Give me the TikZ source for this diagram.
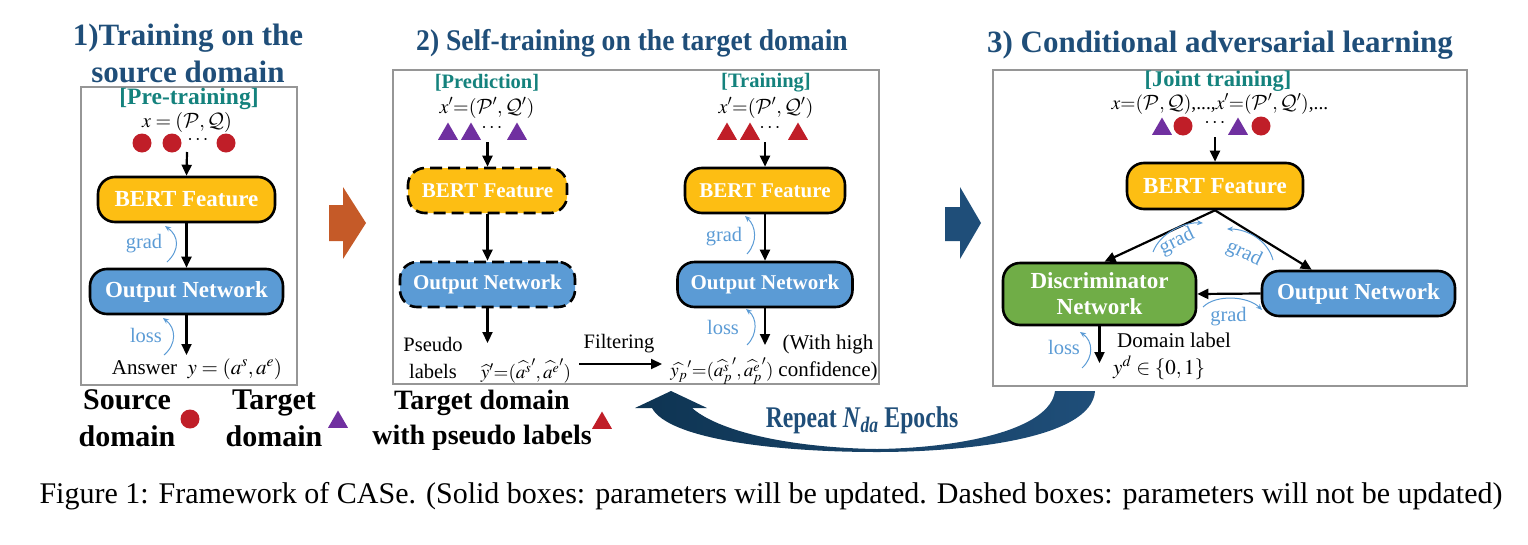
\documentclass[tikz,border=0pt]{standalone}
\usepackage{mathptmx}
\usepackage{fontspec}
\setmainfont{Liberation Serif}
\DeclareMathAlphabet{\mathcal}{OMS}{cmsy}{m}{n}
\usetikzlibrary{arrows.meta,shapes.geometric}
\definecolor{titleblue}{RGB}{31,78,121}
\definecolor{navydark}{RGB}{14,52,82}
\definecolor{tealc}{RGB}{20,130,125}
\definecolor{bertyellow}{RGB}{253,190,19}
\definecolor{outblue}{RGB}{91,155,213}
\definecolor{discgreen}{RGB}{112,173,71}
\definecolor{dotred}{RGB}{192,30,40}
\definecolor{purp}{RGB}{112,48,160}
\definecolor{orangec}{RGB}{197,90,40}
\definecolor{panelgray}{RGB}{150,150,150}
\definecolor{lightblue}{RGB}{91,155,213}
\newcommand\fs[2]{\fontsize{#1}{#2}\selectfont}
\tikzset{
 panel/.style={draw=panelgray, line width=1.6pt, inner sep=0},
 txt/.style={inner sep=0, font=\fs{21}{27}, align=center},
 ttl/.style={inner sep=0, text=titleblue, align=center},
 phase/.style={inner sep=0, text=tealc},
 mth/.style={inner sep=0, font=\fs{20}{24}},
 lgd/.style={inner sep=0, align=center},
 nbox/.style={draw=black, line width=2.6pt, rounded corners=17pt, text=white, font=\fs{23}{26}\bfseries, inner sep=0, minimum height=45, align=center},
 bertbox/.style={nbox, fill=bertyellow},
 outbox/.style={nbox, fill=outblue},
 discbox/.style={nbox, fill=discgreen},
 frozen/.style={dash pattern=on 12pt off 6pt},
 rdot/.style={circle, fill=dotred, inner sep=0, minimum size=19},
 tri/.style={regular polygon, regular polygon sides=3, inner sep=0, minimum size=23, fill=#1},
 conn/.style={line width=2.2pt, -{Triangle[length=11pt,width=10pt]}},
 fb/.style={draw=lightblue, line width=1pt, -{Stealth[length=6pt,width=5pt]}},
 fblabel/.style={inner sep=0, font=\fs{20.5}{24}, text=lightblue},
}
\begin{document}
\begin{tikzpicture}[x=1pt,y=-1pt]
\useasboundingbox (0,0) rectangle (1528,544);
% ---------------- panel 1 ----------------
\node[ttl, font=\fs{31}{37}\bfseries] (t1) at (188,53) {1)Training on the\\source domain};
\node[panel, minimum width=216, minimum height=298] (p1) at (189,236) {};
\node[phase, font=\fs{23.5}{26}\bfseries] (pre) at (189,99) {[Pre-training]};
\node[mth] (x1) at (187,122) {$x=(\mathcal{P},\mathcal{Q})$};
\node[rdot] (c11) at (142,143) {};
\node[rdot] (c12) at (172,143) {};
\node[mth] (d1) at (198,140) {$\cdots$};
\node[rdot] (c13) at (226,143) {};
\coordinate (in1) at (187,152);
\node[bertbox, minimum width=177] (bert1) at (186.5,199.5) {BERT Feature};
\node[outbox, minimum width=193] (on1) at (186.5,291.5) {Output Network};
\coordinate (out1) at (186.5,355);
\draw[conn] (in1) -- (bert1.north);
\draw[conn] (bert1.south) -- (on1.north);
\draw[conn] (on1.south) -- (out1);
\node[fblabel] (g1) at (144,244) {grad};
\draw[fb] (167,262) .. controls (180,250) and (179,236) .. (165,226);
\node[fblabel] (l1) at (146,335) {loss};
\draw[fb] (164,355) .. controls (177,344) and (176,328) .. (163,318);
\node[txt] (ans) at (197,369) {Answer\enspace $y=(a^s,a^e)$};
% legend
\node[lgd, font=\fs{30}{37}\bfseries] (src) at (127,418) {Source\\domain};
\node[rdot] (srcdot) at (190,419) {};
\node[lgd, font=\fs{30}{37}\bfseries] (tgt) at (274,418) {Target\\domain};
\node[tri=purp] (tgttri) at (338,422) {};
% orange arrow
\fill[orangec] (329,205) -- (343,205) -- (343,187) -- (366,223) -- (343,259) -- (343,241) -- (329,241) -- cycle;
% ---------------- panel 2 ----------------
\node[ttl, font=\fs{30}{37}\bfseries] (t2) at (632,43) {\scalebox{0.92}[1]{2) Self-training on the target domain}};
\node[panel, minimum width=486, minimum height=314] (p2) at (636,227) {};
\node[phase, font=\fs{20.5}{26}\bfseries] (pred) at (487,83) {[Prediction]};
\node[mth] (x2a) at (487,108) {$x'{=}(\mathcal{P}',\mathcal{Q}')$};
\node[tri=purp] (ta1) at (448,134) {};
\node[tri=purp] (ta2) at (471,134) {};
\node[mth] (da) at (492,128) {$\cdots$};
\node[tri=purp] (ta3) at (517,134) {};
\node[phase, font=\fs{20.5}{26}\bfseries] (trn) at (766,83) {[Training]};
\node[mth] (x2b) at (766,108) {$x'{=}(\mathcal{P}',\mathcal{Q}')$};
\node[tri=dotred] (tb1) at (727,134) {};
\node[tri=dotred] (tb2) at (750,134) {};
\node[mth] (db) at (770,128) {$\cdots$};
\node[tri=dotred] (tb3) at (798,134) {};
\coordinate (in2a) at (487.5,142);
\coordinate (in2b) at (765,142);
\node[bertbox, frozen, minimum width=159, font=\fs{21}{26}\bfseries] (bert2a) at (487.5,190.5) {BERT Feature};
\node[bertbox, minimum width=160, font=\fs{21}{26}\bfseries] (bert2b) at (765,190.5) {BERT Feature};
\node[outbox, frozen, minimum width=175, font=\fs{21}{26}\bfseries] (on2a) at (487.5,284.5) {Output Network};
\node[outbox, minimum width=175, font=\fs{21}{26}\bfseries] (on2b) at (765,284.5) {Output Network};
\coordinate (out2a) at (487.5,343);
\coordinate (out2b) at (765,345);
\draw[conn] (in2a) -- (bert2a.north);
\draw[conn] (bert2a.south) -- (on2a.north);
\draw[conn] (on2a.south) -- (out2a);
\draw[conn] (in2b) -- (bert2b.north);
\draw[conn] (bert2b.south) -- (on2b.north);
\draw[conn] (on2b.south) -- (out2b);
\node[fblabel] (g2) at (724,237) {grad};
\draw[fb] (747,254) .. controls (758,242) and (756,226) .. (745,216);
\node[fblabel] (l2) at (723,327) {loss};
\draw[fb] (747,345) .. controls (758,334) and (757,318) .. (746,309);
\node[txt, font=\fs{20.5}{27}] (pl) at (433,358) {Pseudo\\labels};
\node[mth, font=\fs{19}{24}] (yh) at (526,371) {$\widehat{y}'{=}(\widehat{a^s}',\widehat{a^e}')$};
\node[txt, font=\fs{20.5}{27}] (filt) at (619,344) {Filtering};
\coordinate (fa) at (579,364);
\coordinate (fbb) at (662,364);
\draw[conn] (fa) -- (fbb);
\node[mth, font=\fs{19}{24}] (yp) at (722,371) {$\widehat{y_p}'{=}(\widehat{a_p^s}',\widehat{a_p^e}')$};
\node[txt] (conf) at (828,358) {(With high\\confidence)};
\node[lgd, font=\fs{28}{35}\bfseries] (tpl) at (482,420) {Target domain\\with pseudo labels};
\node[tri=dotred] (tpltri) at (602,423) {};
% blue arrow
\fill[titleblue] (945,207) -- (960,207) -- (960,187) -- (981,223) -- (960,259) -- (960,241) -- (945,241) -- cycle;
% ---------------- panel 3 ----------------
\node[ttl, font=\fs{31}{37}\bfseries] (t3) at (1220,45) {3) Conditional adversarial learning};
\node[panel, minimum width=474, minimum height=316] (p3) at (1230,228) {};
\node[phase, font=\fs{22.5}{26}\bfseries] (joint) at (1218,81) {[Joint training]};
\node[mth, font=\fs{19.5}{24}] (x3) at (1220,104) {$x{=}(\mathcal{P},\mathcal{Q})$,...,$x'{=}(\mathcal{P}',\mathcal{Q}')$,...};
\node[tri=purp] (s1) at (1162,129) {};
\node[rdot] (s2) at (1183,126) {};
\node[mth] (s3) at (1215,123) {$\cdots$};
\node[tri=purp] (s4) at (1238,129) {};
\node[rdot] (s5) at (1261,126) {};
\coordinate (in3) at (1215,137);
\node[bertbox, minimum width=176, minimum height=46] (bert3) at (1215,186) {BERT Feature};
\node[discbox, minimum width=193, minimum height=62] (disc) at (1099.5,294) {Discriminator\\Network};
\node[outbox, minimum width=193] (on3) at (1358.5,293.5) {Output Network};
\coordinate (out3) at (1099.5,363);
\draw[conn] (in3) -- (bert3.north);
\draw[conn] (bert3.south) -- ([xshift=5pt]disc.north);
\draw[conn] (bert3.south) -- ([xshift=51pt]on3.north west);
\draw[conn] (on3.west) -- (disc.east);
\draw[conn] (disc.south) -- (out3);
\node[fblabel, rotate=26] (g31) at (1177,242) {grad};
\draw[fb] (1153,252) .. controls (1160,233) and (1184,222) .. (1203,223);
\node[fblabel, rotate=-26] (g32) at (1244,254) {grad};
\draw[fb] (1273,260) .. controls (1268,241) and (1248,229) .. (1227,229);
\node[fblabel] (g33) at (1228.5,317) {grad};
\draw[fb] (1203,307) .. controls (1216,294) and (1248,296) .. (1262,310);
\node[fblabel] (l3) at (1064,347) {loss};
\draw[fb] (1082,368) .. controls (1094,357) and (1093,341) .. (1080,332);
\node[txt, anchor=west] (dl) at (1117,340) {Domain label};
\node[mth, anchor=west, font=\fs{21}{24}] (yd) at (1113,368) {$y^d\in\{0,1\}$};
% ---------------- repeat arrow ----------------
\shade[left color=navydark, right color=titleblue]
 (1095,391) .. controls (1092,440) and (960,452) .. (877,452)
 .. controls (770,452) and (668,438) .. (652,408)
 -- (635,408) -- (671,391) -- (707,408) -- (692,408)
 .. controls (722,434) and (800,448) .. (877,449)
 .. controls (960,448) and (1050,430) .. (1055,391) -- cycle;
\node[inner sep=0, font=\fs{30}{34}\bfseries, text=titleblue] (rep) at (862,420) {\scalebox{0.79}[1]{Repeat \textit{N}\textsubscript{\textit{da}} Epochs}};
% ---------------- caption ----------------
\node[inner sep=0, font=\fs{30}{34}] (cap) at (771,496) {Figure 1: Framework of CASe. (Solid boxes: parameters will be updated. Dashed boxes: parameters will not be updated)};
\end{tikzpicture}
\end{document}
